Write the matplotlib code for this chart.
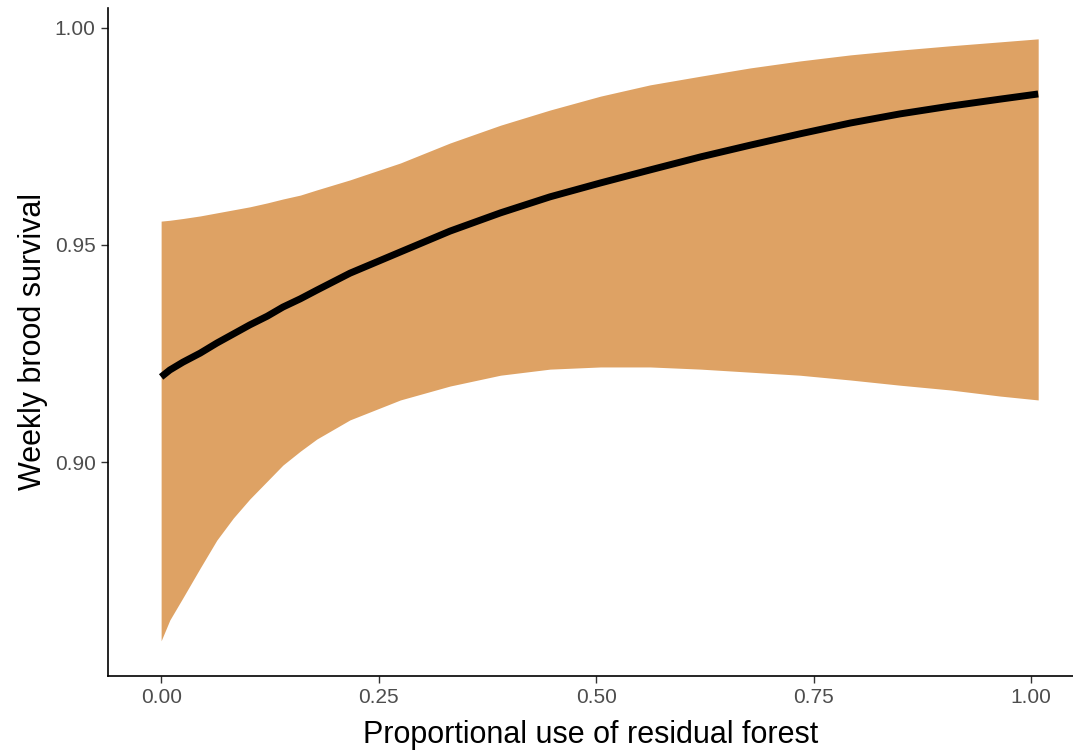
import matplotlib.pyplot as plt

plt.rcParams['font.family'] = ['Liberation Sans', 'DejaVu Sans']

# predicted weekly brood survival with 95% confidence band
forest_use = [0.0, 0.010, 0.025, 0.045, 0.064, 0.083, 0.102, 0.122, 0.140, 0.160,
              0.179, 0.217, 0.275, 0.332, 0.390, 0.447, 0.505, 0.562, 0.620, 0.677,
              0.734, 0.792, 0.849, 0.907, 0.964, 1.008]
survival = [0.9196, 0.9212, 0.9230, 0.9251, 0.9274, 0.9295, 0.9316, 0.9336, 0.9357,
            0.9376, 0.9396, 0.9435, 0.9484, 0.9532, 0.9574, 0.9611, 0.9643, 0.9673,
            0.9703, 0.9730, 0.9756, 0.9781, 0.9802, 0.9820, 0.9836, 0.9848]
upper = [0.9555, 0.9557, 0.9561, 0.9567, 0.9574, 0.9581, 0.9588, 0.9597, 0.9606,
         0.9615, 0.9627, 0.9650, 0.9689, 0.9735, 0.9776, 0.9811, 0.9843, 0.9869,
         0.9889, 0.9908, 0.9924, 0.9938, 0.9949, 0.9959, 0.9968, 0.9975]
lower = [0.8588, 0.8636, 0.8687, 0.8756, 0.8820, 0.8871, 0.8915, 0.8956, 0.8993,
         0.9025, 0.9053, 0.9097, 0.9143, 0.9175, 0.9200, 0.9214, 0.9219, 0.9219,
         0.9214, 0.9207, 0.9200, 0.9189, 0.9177, 0.9166, 0.9152, 0.9143]

x_ticks = [0.0, 0.25, 0.5, 0.75, 1.0]
x_labels = ['0.00', '0.25', '0.50', '0.75', '1.00']
y_ticks = [0.90, 0.95, 1.00]
y_labels = ['0.90', '0.95', '1.00']

fig = plt.figure(figsize=(10.73, 7.5), dpi=100)
ax = fig.add_axes([0.1007, 0.0987, 0.8993, 0.8906])

ax.fill_between(forest_use, lower, upper, color='#DEA264', linewidth=0)
ax.plot(forest_use, survival, color='black', linewidth=5.0,
        solid_capstyle='butt', solid_joinstyle='round')

ax.set_xlim(-0.061, 1.048)
ax.set_ylim(0.8507, 1.0046)
ax.set_xticks(x_ticks)
ax.set_xticklabels(x_labels)
ax.set_yticks(y_ticks)
ax.set_yticklabels(y_labels)

for side in ['top', 'right']:
    ax.spines[side].set_visible(False)
for side in ['left', 'bottom']:
    ax.spines[side].set_linewidth(1.2)
ax.tick_params(axis='both', length=5, width=1.0, color='#333333',
               labelcolor='#4D4D4D', labelsize=15, pad=4)

ax.set_xlabel('Proportional use of residual forest', fontsize=22, labelpad=9)
ax.set_ylabel('Weekly brood survival', fontsize=22, labelpad=5)

fig.savefig('out.png', dpi=100)
